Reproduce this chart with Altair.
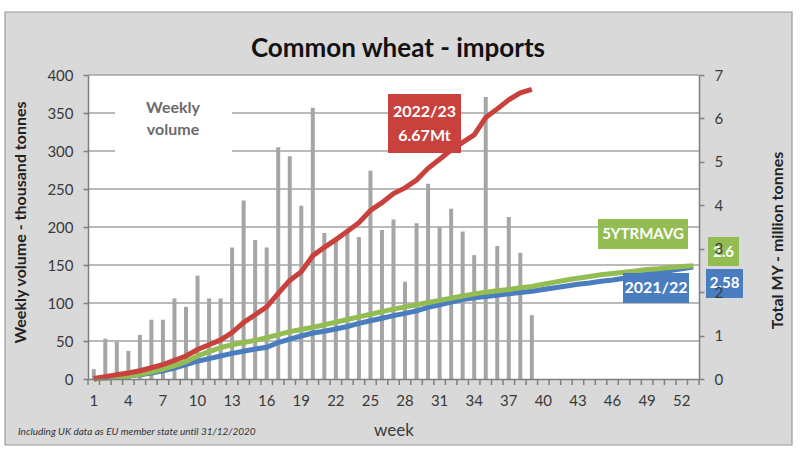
import altair as alt
import pandas as pd

# ---------------- data ----------------
weeks = list(range(1, 54))
bar_weeks = list(range(1, 40))
weekly_volume = [13, 53, 49, 37, 58, 78, 78, 106, 95, 136, 106, 106, 173, 235, 183, 173,
                 305, 293, 228, 357, 192, 183, 195, 187, 274, 196, 210, 128, 205, 257,
                 200, 224, 194, 163, 371, 175, 213, 166, 84]
red_weeks = list(range(1, 40))
my_2022_23 = [0.01, 0.05, 0.10, 0.14, 0.19, 0.26, 0.33, 0.43, 0.53, 0.68, 0.79, 0.90,
              1.07, 1.30, 1.48, 1.66, 1.97, 2.27, 2.47, 2.84, 3.03, 3.21, 3.40, 3.60,
              3.88, 4.06, 4.27, 4.40, 4.58, 4.85, 5.06, 5.27, 5.45, 5.62, 6.02, 6.22,
              6.43, 6.59, 6.67]
my_2021_22 = [0.00, 0.02, 0.04, 0.07, 0.10, 0.14, 0.19, 0.25, 0.33, 0.41, 0.47, 0.53,
              0.59, 0.64, 0.69, 0.73, 0.84, 0.92, 0.99, 1.06, 1.10, 1.15, 1.21, 1.28,
              1.34, 1.40, 1.46, 1.51, 1.57, 1.65, 1.71, 1.77, 1.83, 1.87, 1.90, 1.93,
              1.96, 1.99, 2.02, 2.06, 2.10, 2.14, 2.18, 2.21, 2.25, 2.28, 2.32, 2.37,
              2.42, 2.46, 2.50, 2.54, 2.58]
avg_5yr = [0.00, 0.02, 0.04, 0.07, 0.11, 0.16, 0.23, 0.31, 0.40, 0.53, 0.63, 0.72,
           0.79, 0.84, 0.89, 0.95, 1.02, 1.09, 1.14, 1.19, 1.25, 1.31, 1.37, 1.43,
           1.49, 1.55, 1.61, 1.66, 1.71, 1.76, 1.81, 1.86, 1.91, 1.96, 2.00, 2.03,
           2.06, 2.10, 2.13, 2.18, 2.23, 2.28, 2.32, 2.36, 2.40, 2.43, 2.46, 2.49,
           2.52, 2.54, 2.57, 2.59, 2.61]
left_ticks = [0, 50, 100, 150, 200, 250, 300, 350, 400]
right_ticks = [0, 1, 2, 3, 4, 5, 6, 7]
x_labels = [1, 4, 7, 10, 13, 16, 19, 22, 25, 28, 31, 34, 37, 40, 43, 46, 49, 52]

W, H = 611, 304
FONT = "Lato"
GRAY_TXT = "#3a3a3a"
AX_COL = "#7f7f7f"
RED, BLUE, GREEN = "#c8413c", "#4a7dbf", "#93bd52"

df_bars = pd.DataFrame({"week": bar_weeks, "vol": weekly_volume})
df_red = pd.DataFrame({"week": red_weeks, "v": my_2022_23})
df_blue = pd.DataFrame({"week": weeks, "v": my_2021_22})
df_green = pd.DataFrame({"week": weeks, "v": avg_5yr})
df_weeks = pd.DataFrame({"week": weeks})
df_grid = pd.DataFrame({"g": left_ticks[1:]})
one = pd.DataFrame({"k": [0]})

label_expr = f"indexof({x_labels}, datum.value) >= 0 ? datum.label : ''"
x_axis = alt.Axis(title="week", labelExpr=label_expr, labelAngle=0, labelOverlap=False,
                  ticks=False, domainColor=AX_COL,
                  domainWidth=1.5, labelFont=FONT, labelFontSize=15, labelColor=GRAY_TXT,
                  labelPadding=14, titleFont=FONT, titleFontSize=17, titleFontWeight="normal",
                  titleColor=GRAY_TXT, titleY=51, titleBaseline="middle", grid=False, zindex=1)
x_scale = alt.Scale(domain=weeks, paddingInner=0, paddingOuter=0)
x_enc = alt.X("week:O", scale=x_scale, axis=x_axis)


def yl_scale():
    return alt.Scale(domain=[0, 400], nice=False, zero=True)


def yr_scale():
    return alt.Scale(domain=[0, 7], nice=False, zero=True)


def rect(x, x2, y, y2, fill, stroke=None, sw=0):
    kw = dict(fill=fill)
    if stroke:
        kw.update(stroke=stroke, strokeWidth=sw)
    return alt.Chart(one).mark_rect(**kw).encode(
        x=alt.value(x), x2=alt.value(x2), y=alt.value(y), y2=alt.value(y2))


def txt(s, x, y, size, color="white", weight="bold", align="center", style="normal"):
    return alt.Chart(one).mark_text(font=FONT, fontSize=size, fontWeight=weight, color=color,
                                    align=align, baseline="middle", fontStyle=style).encode(
        x=alt.value(x), y=alt.value(y), text=alt.value(s))


# frame & plot background
frame = rect(-83, 704, -63, 370, "#d9d9d9", "#9a9a9a", 1.2)
plot_bg = rect(0, W, 0, H, "white")

# week tick marks on the band boundaries (Excel style)
x_ticks = alt.Chart(df_weeks).mark_rule(color=AX_COL, strokeWidth=1.5).encode(
    x=alt.X("week:O", scale=x_scale, axis=x_axis, bandPosition=0),
    y=alt.value(H), y2=alt.value(H + 6))
x_tick_end = alt.Chart(one).mark_rule(color=AX_COL, strokeWidth=1.5).encode(
    x=alt.value(W), y=alt.value(H), y2=alt.value(H + 6))

grid = alt.Chart(df_grid).mark_rule(color="#a3a3a3", strokeWidth=1.5).encode(
    y=alt.Y("g:Q", scale=yl_scale(), axis=None))
weekly_box = rect(27, 144, 22, 88, "white")

bars = alt.Chart(df_bars).mark_bar(color="#a5a5a5", size=4).encode(
    x=x_enc,
    y=alt.Y("vol:Q", scale=yl_scale(),
            axis=alt.Axis(orient="left", values=left_ticks, title="Weekly volume - thousand tonnes",
                          tickSize=5, tickWidth=1.5, tickColor=AX_COL, domainColor=AX_COL,
                          domainWidth=1.5,
                          labelFont=FONT, labelFontSize=15, labelColor=GRAY_TXT, labelPadding=10,
                          titleFont=FONT, titleFontSize=16, titleFontWeight="bold",
                          titleColor="#222222", titleAngle=270, titleX=-68, titleY=147,
                          titleAlign="center", titleBaseline="middle", grid=False, zindex=1)))

blue = alt.Chart(df_blue).mark_line(color=BLUE, strokeWidth=5).encode(
    x=x_enc,
    y=alt.Y("v:Q", scale=yr_scale(),
            axis=alt.Axis(orient="right", values=right_ticks, title="Total MY - million tonnes",
                          tickSize=5, tickWidth=1.5, tickColor=AX_COL, domainColor=AX_COL,
                          domainWidth=1.5,
                          labelFont=FONT, labelFontSize=15, labelColor=GRAY_TXT, labelPadding=10,
                          titleFont=FONT, titleFontSize=16, titleFontWeight="bold",
                          titleColor="#222222", titleAngle=270, titleX=78, titleY=165,
                          titleAlign="center", titleBaseline="middle", grid=False, zindex=1)))
green = alt.Chart(df_green).mark_line(color=GREEN, strokeWidth=5).encode(
    x=x_enc, y=alt.Y("v:Q", scale=yr_scale(), axis=None))
red = alt.Chart(df_red).mark_line(color=RED, strokeWidth=5).encode(
    x=x_enc, y=alt.Y("v:Q", scale=yr_scale(), axis=None))

annotations = [
    txt("Weekly", 85, 33, 16, color="#6b6b6b"),
    txt("volume", 85, 55, 16, color="#6b6b6b"),
    rect(300, 373, 19, 78, RED),
    txt("2022/23", 336.5, 37, 16),
    txt("6.67Mt", 336.5, 61, 16),
    rect(510, 600, 144, 174, GREEN),
    txt("5YTRMAVG", 555, 159, 15),
    rect(535, 601, 198, 228, BLUE),
    txt("2021/22", 568, 213, 16),
    rect(620, 651, 162, 191, GREEN),
    txt("2.6", 635.5, 177, 15),
    rect(618, 655, 194, 223, BLUE),
    txt("2.58", 636.5, 208, 15),
    txt("Common wheat - imports", 310, -26, 26, color="#111111"),
    txt("Including UK data as EU member state until 31/12/2020", -70, 357, 10,
        color="#333333", weight="normal", align="left", style="italic"),
]

chart = alt.layer(frame, plot_bg, x_ticks, x_tick_end, grid, weekly_box, bars, blue, green, red,
                  *annotations).resolve_scale(
    y="independent"
).properties(
    width=W, height=H,
    autosize=alt.AutoSizeParams(type="none"),
    padding={"left": 88, "top": 75, "right": 101, "bottom": 78},
    background="white",
).configure_view(stroke=None)

chart.save("out.html", embed_options={"renderer": "svg", "actions": False})
